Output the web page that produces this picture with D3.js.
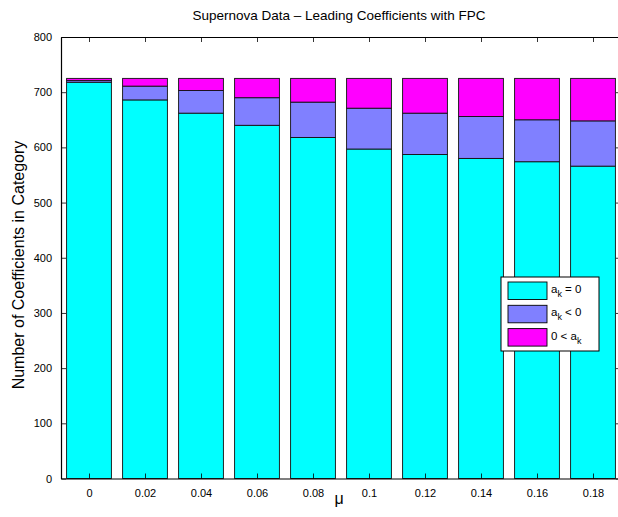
<!DOCTYPE html>
<html>
<head>
<meta charset="utf-8">
<script src="https://cdn.jsdelivr.net/npm/d3@7"></script>
<style>
  html, body { margin: 0; padding: 0; background: #fff; }
  svg { display: block; font-family: "Liberation Sans", Arial, Helvetica, sans-serif; }
</style>
</head>
<body>
<svg id="chart" width="618" height="517"></svg>
<script>
// Regularisation parameter values (x categories)
const mu = [0, 0.02, 0.04, 0.06, 0.08, 0.1, 0.12, 0.14, 0.16, 0.18];
const muLabels = ["0", "0.02", "0.04", "0.06", "0.08", "0.1", "0.12", "0.14", "0.16", "0.18"];
// Counts of leading coefficients per category, stacked bottom to top
const zeroCount = [718, 686, 662, 640, 618, 597, 587, 580, 574, 566];
const negCount  = [3, 25, 41, 50, 64, 74, 75, 76, 76, 82];
const posCount  = [4, 14, 22, 35, 43, 54, 63, 69, 75, 77];
const yTicks = [0, 100, 200, 300, 400, 500, 600, 700, 800];

const seriesKeys = ["zero", "neg", "pos"];
const seriesColors = { zero: "#00ffff", neg: "#8080ff", pos: "#ff00ff" };

const rows = mu.map((m, i) => ({ mu: m, zero: zeroCount[i], neg: negCount[i], pos: posCount[i] }));
const stacked = d3.stack().keys(seriesKeys)(rows);

const svg = d3.select("#chart");
const plotLeft = 61, plotRight = 621, plotTop = 37, plotBottom = 478.5;

const x = d3.scaleLinear().domain([-0.01, 0.19]).range([plotLeft, plotRight]);
const y = d3.scaleLinear().domain([0, 800]).range([plotBottom, plotTop]);
// bars fill 80% of the category spacing
const barW = (x(0.02) - x(0)) * 0.8;

// stacked bars
svg.append("g").selectAll("g")
  .data(stacked).join("g")
  .attr("fill", d => seriesColors[d.key])
  .selectAll("rect")
  .data(d => d).join("rect")
  .attr("x", d => x(d.data.mu) - barW / 2)
  .attr("width", barW)
  .attr("y", d => y(d[1]))
  .attr("height", d => y(d[0]) - y(d[1]))
  .attr("stroke", "#111")
  .attr("stroke-width", 0.9);

// axes (ticks pointing inward, box on all sides)
const tickLen = 5;
const axisG = svg.append("g");
axisG.append("g")
  .attr("transform", `translate(0,${plotBottom})`)
  .call(d3.axisBottom(x).tickValues(mu).tickFormat((d, i) => muLabels[i]).tickSizeInner(-tickLen).tickSizeOuter(0).tickPadding(11));
axisG.append("g")
  .attr("transform", `translate(0,${plotTop})`)
  .call(d3.axisTop(x).tickValues(mu).tickFormat("").tickSizeInner(-tickLen).tickSizeOuter(0));
axisG.append("g")
  .attr("transform", `translate(${plotLeft},0)`)
  .call(d3.axisLeft(y).tickValues(yTicks).tickSizeInner(-tickLen).tickSizeOuter(0).tickPadding(9));
axisG.append("g")
  .attr("transform", `translate(${plotRight},0)`)
  .call(d3.axisRight(y).tickValues(yTicks).tickFormat("").tickSizeInner(-tickLen).tickSizeOuter(0));
axisG.selectAll(".domain").attr("stroke", "#000").attr("stroke-width", 1.2);
axisG.selectAll(".tick line").attr("stroke", "#000").attr("stroke-width", 0.8);
axisG.selectAll(".tick text").attr("font-size", 11).attr("fill", "#000")
  .attr("font-family", "'Liberation Sans', Arial, sans-serif");

// title and axis labels
svg.append("text")
  .attr("x", (plotLeft + 617) / 2).attr("y", 20)
  .attr("text-anchor", "middle").attr("font-size", 13.5)
  .text("Supernova Data \u2013 Leading Coefficients with FPC");
svg.append("text")
  .attr("transform", `translate(24,265) rotate(-90)`)
  .attr("text-anchor", "middle").attr("font-size", 16)
  .text("Number of Coefficients in Category");
svg.append("text")
  .attr("x", (plotLeft + 617) / 2).attr("y", 504)
  .attr("text-anchor", "middle").attr("font-size", 16)
  .text("\u03bc");

// legend
const legend = svg.append("g").attr("transform", "translate(501,277)");
legend.append("rect")
  .attr("width", 98).attr("height", 74)
  .attr("fill", "#fff").attr("stroke", "#000").attr("stroke-width", 1);
const legendItems = [
  { key: "zero", pre: "a", sub: "k", post: " = 0" },
  { key: "neg", pre: "a", sub: "k", post: " < 0" },
  { key: "pos", pre: "0 < a", sub: "k", post: "" }
];
legendItems.forEach((it, i) => {
  const gy = 5 + i * 23.3;
  legend.append("rect")
    .attr("x", 7).attr("y", gy).attr("width", 39).attr("height", 17.5)
    .attr("fill", seriesColors[it.key]).attr("stroke", "#000").attr("stroke-width", 0.9);
  const t = legend.append("text").attr("x", 50).attr("y", gy + 11).attr("font-size", 11.5);
  t.append("tspan").text(it.pre);
  t.append("tspan").attr("dy", 4).attr("font-size", 9).text(it.sub);
  if (it.post) t.append("tspan").attr("dy", -4).text(it.post);
});
</script>
</body>
</html>
